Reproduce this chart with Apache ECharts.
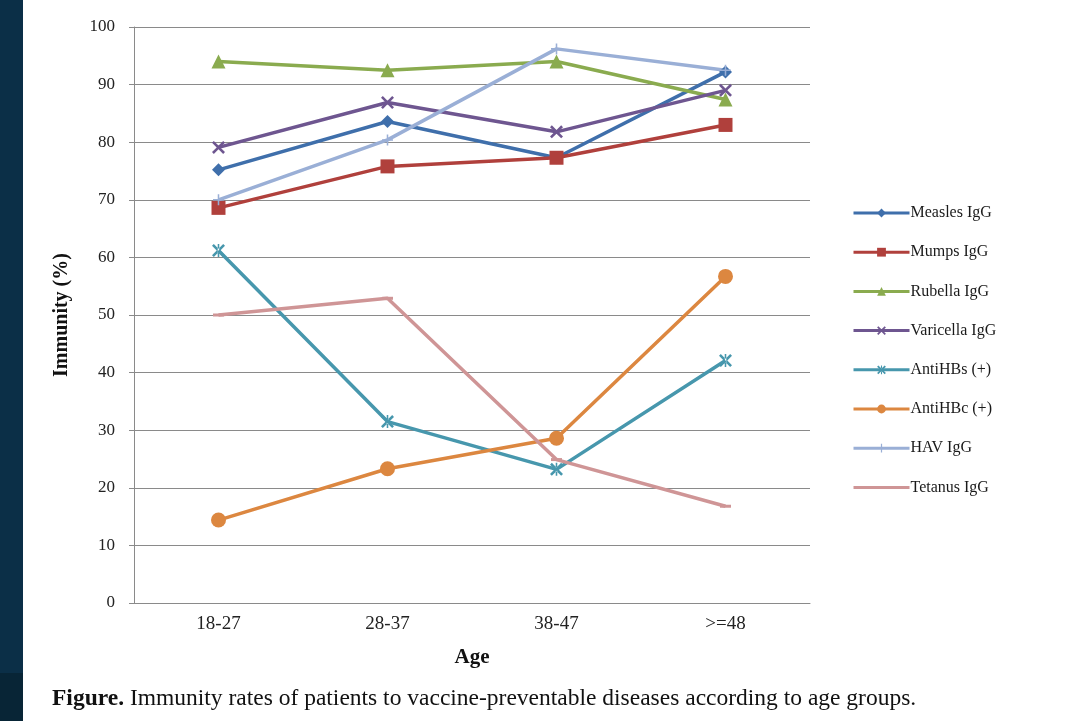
<!DOCTYPE html>
<html>
<head>
<meta charset="utf-8">
<script src="https://cdn.jsdelivr.net/npm/echarts@6/dist/echarts.min.js"></script>
<style>html,body{margin:0;padding:0;background:#fff;}#c{width:1069px;height:721px;}</style>
</head>
<body>
<div id="c"></div>
<script>
const categories = ['18-27', '28-37', '38-47', '>=48'];
const yTicks = [0, 10, 20, 30, 40, 50, 60, 70, 80, 90, 100];
const measles = [75.2, 83.6, 77.3, 92.2];
const mumps = [68.6, 75.8, 77.3, 83.0];
const rubella = [94.0, 92.5, 94.0, 87.4];
const varicella = [79.1, 86.9, 81.8, 89.0];
const antiHBs = [61.2, 31.5, 23.2, 42.1];
const antiHBc = [14.4, 23.3, 28.6, 56.7];
const hav = [70.0, 80.4, 96.2, 92.5];
const tetanus = [50.0, 52.9, 24.9, 16.8];

const X_PATH = 'path://M0,1.4 L1.4,0 L5,3.6 L8.6,0 L10,1.4 L6.4,5 L10,8.6 L8.6,10 L5,6.4 L1.4,10 L0,8.6 L3.6,5 Z';
const STAR_PATH = 'path://M0,1.4 L1.4,0 L5,3.6 L8.6,0 L10,1.4 L6.4,5 L10,8.6 L8.6,10 L5,6.4 L1.4,10 L0,8.6 L3.6,5 Z M4.4,0 L4.4,10 L5.6,10 L5.6,0 Z';
const PLUS_PATH = 'path://M4.3,0 L5.7,0 L5.7,4.3 L10,4.3 L10,5.7 L5.7,5.7 L5.7,10 L4.3,10 L4.3,5.7 L0,5.7 L0,4.3 L4.3,4.3 Z';
const DASH_PATH = 'path://M0,0 L10,0 L10,3 L0,3 Z';

const defs = [
  {name: 'Measles IgG', data: measles, color: '#3f6fab', symbol: 'diamond', size: 13},
  {name: 'Mumps IgG', data: mumps, color: '#b0403c', symbol: 'rect', size: 14},
  {name: 'Rubella IgG', data: rubella, color: '#8aab4f', symbol: 'triangle', size: 14},
  {name: 'Varicella IgG', data: varicella, color: '#6e5690', symbol: X_PATH, size: 13},
  {name: 'AntiHBs (+)', data: antiHBs, color: '#4797ad', symbol: STAR_PATH, size: 13},
  {name: 'AntiHBc (+)', data: antiHBc, color: '#dc8740', symbol: 'circle', size: 15},
  {name: 'HAV IgG', data: hav, color: '#9aafd6', symbol: PLUS_PATH, size: 11},
  {name: 'Tetanus IgG', data: tetanus, color: '#cf9596', symbol: DASH_PATH, size: [11, 3]}
];

const serif = '"Liberation Serif", "DejaVu Serif", serif';
const chart = echarts.init(document.getElementById('c'));
chart.setOption({
  backgroundColor: '#fff',
  animation: false,
  graphic: [
    {type: 'rect', left: 0, top: 0, shape: {width: 23, height: 673}, style: {fill: '#0b2f47'}},
    {type: 'rect', left: 0, top: 673, shape: {width: 23, height: 48}, style: {fill: '#082536'}},
    {type: 'text', left: 52, top: 687, style: {
      text: '{b|Figure.} Immunity rates of patients to vaccine-preventable diseases according to age groups.',
      rich: {b: {fontWeight: 'bold', fontFamily: serif, fontSize: 23.5, fill: '#111'}},
      fontFamily: serif, fontSize: 23.5, fill: '#111'
    }}
  ],
  grid: {left: 134, right: 259, top: 27, bottom: 118, containLabel: false},
  legend: {
    orient: 'vertical', left: 847, top: 200,
    itemWidth: 56, itemHeight: 11, itemGap: 23.2,
    lineStyle: {width: 3},
    textStyle: {fontFamily: serif, fontSize: 16, color: '#1a1a1a', padding: [0, 0, 0, -4]},
    data: defs.map(d => d.name === 'Tetanus IgG'
      ? {name: d.name, itemStyle: {opacity: 0}}
      : d.name)
  },
  xAxis: {
    type: 'category', data: categories, boundaryGap: true,
    axisLine: {lineStyle: {color: '#8a8a8a', width: 1}},
    axisTick: {show: false},
    axisLabel: {fontFamily: serif, fontSize: 19, color: '#222', margin: 12},
    name: 'Age', nameLocation: 'middle', nameGap: 44,
    nameTextStyle: {fontFamily: serif, fontSize: 21, fontWeight: 'bold', color: '#111'}
  },
  yAxis: {
    type: 'value', min: 0, max: 100, interval: 10,
    axisLine: {show: true, lineStyle: {color: '#8a8a8a', width: 1}},
    axisTick: {show: true, length: 5, lineStyle: {color: '#8a8a8a'}},
    splitLine: {lineStyle: {color: '#8a8a8a', width: 1}},
    axisLabel: {fontFamily: serif, fontSize: 17, color: '#222', margin: 19, padding: [0, 0, 6, 0],
      formatter: v => yTicks.includes(v) ? String(v) : ''},
    name: 'Immunity (%)', nameLocation: 'middle', nameGap: 62, nameRotate: 90,
    nameTextStyle: {fontFamily: serif, fontSize: 20, fontWeight: 'bold', color: '#111'}
  },
  series: defs.map(d => ({
    name: d.name, type: 'line', data: d.data,
    symbol: d.symbol, symbolSize: d.size,
    lineStyle: {color: d.color, width: 3.5},
    itemStyle: {color: d.color},
    emphasis: {disabled: true}
  }))
});
</script>
</body>
</html>
